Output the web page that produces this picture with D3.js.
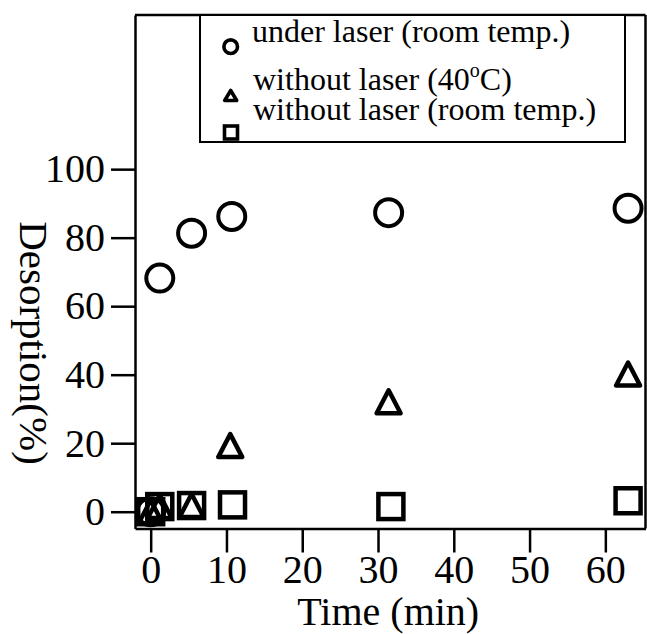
<!DOCTYPE html>
<html>
<head>
<meta charset="utf-8">
<script src="https://cdn.jsdelivr.net/npm/d3@7"></script>
<style>
  body { margin: 0; background: #fff; }
  svg { display: block; }
  text { font-family: "Liberation Serif", "Times New Roman", serif; fill: #000; }
</style>
</head>
<body>
<svg id="chart" width="647" height="634"></svg>
<script>
// --- Data ---
const timeCircle = [0, 1.2, 5.4, 10.7, 31.4, 63];
const underLaser = [0, 68.2, 81.3, 86.2, 87.3, 88.6];

const timeTriangle = [0, 1.2, 5.4, 10.5, 31.4, 63];
const withoutLaser40 = [0, 1.5, 1.8, 19.3, 32.1, 40.2];

const timeSquare = [0, 1.2, 5.4, 10.8, 31.7, 63];
const withoutLaserRoom = [0, 1.5, 1.8, 2.0, 1.5, 3.2];

const xTicks = [0, 10, 20, 30, 40, 50, 60];
const yTicks = [0, 20, 40, 60, 80, 100];
const legendLabels = ['under laser (room temp.)', 'without laser (40', 'without laser (room temp.)'];

// --- Layout ---
const svg = d3.select('#chart');
const plotLeft = 135, plotRight = 645.5, plotTop = 15, plotBottom = 528.5;

const x = d3.scaleLinear().domain([-2.07, 65.3]).range([plotLeft, plotRight]);
const y = d3.scaleLinear().domain([-4.9, 145]).range([plotBottom, plotTop]);

// --- Axes ---
const xAxis = svg.append('g')
    .attr('transform', `translate(0,${plotBottom})`)
    .call(d3.axisBottom(x).tickValues(xTicks).tickSize(24).tickSizeOuter(0).tickPadding(2));

const yAxis = svg.append('g')
    .attr('transform', `translate(${plotLeft},0)`)
    .call(d3.axisLeft(y).tickValues(yTicks).tickSize(24).tickSizeOuter(0).tickPadding(6));

[xAxis, yAxis].forEach(a => {
    a.select('.domain').attr('stroke', '#000').attr('stroke-width', 2.5);
    a.selectAll('.tick line').attr('stroke', '#000').attr('stroke-width', 2.5);
    a.selectAll('.tick text')
        .attr('font-family', '"Liberation Serif", serif')
        .attr('font-size', 40)
        .attr('fill', '#000');
});

// top and right frame lines
svg.append('line').attr('x1', plotLeft).attr('x2', plotRight).attr('y1', plotTop).attr('y2', plotTop)
    .attr('stroke', '#000').attr('stroke-width', 2.5);
svg.append('line').attr('x1', plotRight).attr('x2', plotRight).attr('y1', plotTop).attr('y2', plotBottom)
    .attr('stroke', '#000').attr('stroke-width', 2.5);

// axis titles
svg.append('text')
    .attr('x', (plotLeft + plotRight) / 2 - 2)
    .attr('y', 625)
    .attr('text-anchor', 'middle')
    .attr('font-size', 40)
    .text('Time (min)');

svg.append('text')
    .attr('transform', 'translate(20,343) rotate(90)')
    .attr('text-anchor', 'middle')
    .attr('font-size', 41)
    .text('Desorption(%)');

// --- Marker helpers ---
function trianglePath(cx, cy, w, h) {
    const p = d3.path();
    p.moveTo(cx, cy - h / 2);
    p.lineTo(cx + w / 2, cy + h / 2);
    p.lineTo(cx - w / 2, cy + h / 2);
    p.closePath();
    return p.toString();
}

const plot = svg.append('g');

// circles
plot.selectAll('.circ')
    .data(d3.zip(timeCircle, underLaser))
    .enter().append('circle')
    .attr('class', 'circ')
    .attr('cx', d => x(d[0]))
    .attr('cy', d => y(d[1]))
    .attr('r', 13.5)
    .attr('fill', 'none')
    .attr('stroke', '#000')
    .attr('stroke-width', 4);

// squares
const sq = 25;
plot.selectAll('.sq')
    .data(d3.zip(timeSquare, withoutLaserRoom))
    .enter().append('rect')
    .attr('class', 'sq')
    .attr('x', d => x(d[0]) - sq / 2)
    .attr('y', d => y(d[1]) - sq / 2)
    .attr('width', sq)
    .attr('height', sq)
    .attr('fill', 'none')
    .attr('stroke', '#000')
    .attr('stroke-width', 4.5);

// triangles
plot.selectAll('.tri')
    .data(d3.zip(timeTriangle, withoutLaser40))
    .enter().append('path')
    .attr('class', 'tri')
    .attr('d', d => trianglePath(x(d[0]), y(d[1]), 24, 23))
    .attr('fill', 'none')
    .attr('stroke', '#000')
    .attr('stroke-width', 4.5)
    .attr('stroke-linejoin', 'round');

// --- Legend ---
const legend = svg.append('g');
legend.append('rect')
    .attr('x', 200).attr('y', plotTop)
    .attr('width', 425).attr('height', 127)
    .attr('fill', '#fff')
    .attr('stroke', '#000')
    .attr('stroke-width', 2);

legend.append('circle')
    .attr('cx', 230.7).attr('cy', 46.7).attr('r', 6.8)
    .attr('fill', 'none').attr('stroke', '#000').attr('stroke-width', 3.6);
legend.append('path')
    .attr('d', trianglePath(230.7, 95.5, 12, 10))
    .attr('fill', 'none').attr('stroke', '#000').attr('stroke-width', 3.6)
    .attr('stroke-linejoin', 'round');
legend.append('rect')
    .attr('x', 224.5).attr('y', 126).attr('width', 13).attr('height', 13)
    .attr('fill', 'none').attr('stroke', '#000').attr('stroke-width', 3.6);

legend.append('text').attr('x', 252).attr('y', 41.5).attr('font-size', 32).text(legendLabels[0]);
const l2 = legend.append('text').attr('x', 253).attr('y', 90).attr('font-size', 32);
l2.append('tspan').text(legendLabels[1]);
l2.append('tspan').attr('dy', -13).attr('font-size', 20).text('o');
l2.append('tspan').attr('dy', 13).text('C)');
legend.append('text').attr('x', 253).attr('y', 120).attr('font-size', 32).text(legendLabels[2]);
</script>
</body>
</html>
